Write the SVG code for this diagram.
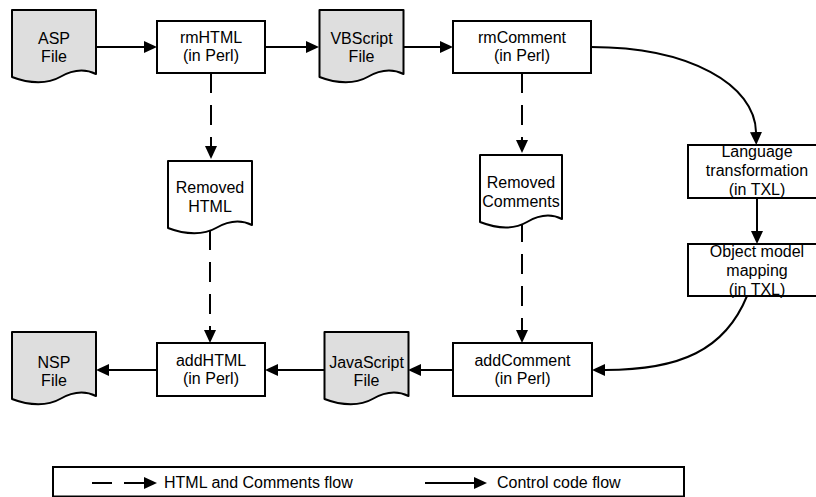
<svg xmlns="http://www.w3.org/2000/svg" xmlns:xlink="http://www.w3.org/1999/xlink" width="816" height="497" viewBox="0 0 816 497">
  <style>
    text { font-family: "Liberation Sans", Arial, sans-serif; font-size: 16px; fill: #000; text-anchor: middle; }
    .legend text { text-anchor: start; }
    .box { fill: #fff; stroke: #000; stroke-width: 2; }
    .file { fill: #dedede; stroke: #000; stroke-width: 2; stroke-linejoin: round; }
    .store { fill: #fff; stroke: #000; stroke-width: 2; stroke-linejoin: round; }
    .flow { fill: none; stroke: #000; stroke-width: 2; marker-end: url(#arrow); }
    .dash { stroke-dasharray: 20 12; }
  </style>
  <defs>
    <marker id="arrow" markerUnits="userSpaceOnUse" markerWidth="13" markerHeight="12" refX="0" refY="6" orient="auto">
      <path d="M0,0 L13,6 L0,12 Z" fill="#000"/>
    </marker>
    <!-- document shape with wavy bottom edge -->
    <path id="doc" d="M0,0 H84 V64 C72,58 60,60 48,67 C36,74 18,74 0,67 Z"/>
  </defs>

  <g id="connectors">
    <!-- control code flow -->
    <path class="flow" d="M96,47 H144"/>
    <path class="flow" d="M265,47 H306"/>
    <path class="flow" d="M404,47 H440"/>
    <path class="flow" d="M591,47 C690,47 755,85 756,132"/>
    <path class="flow" d="M757,198 V231"/>
    <path class="flow" d="M747,296 C725,350 680,370 605,370"/>
    <path class="flow" d="M453,370 H421"/>
    <path class="flow" d="M325,370 H278"/>
    <path class="flow" d="M157,370 H109"/>
    <!-- HTML and comments flow -->
    <path class="flow dash" d="M211,73 V146"/>
    <path class="flow dash" d="M210,230 V330"/>
    <path class="flow dash" d="M522,73 V140"/>
    <path class="flow dash" d="M522,222 V330"/>
  </g>

  <g id="asp-file">
    <use xlink:href="#doc" class="file" transform="translate(12,10)"/>
    <text x="54" y="44">ASP</text>
    <text x="54" y="62">File</text>
  </g>
  <g id="rmHTML">
    <rect class="box" x="157" y="21" width="108" height="52"/>
    <text x="211" y="43">rmHTML</text>
    <text x="211" y="61">(in Perl)</text>
  </g>
  <g id="vbscript-file">
    <use xlink:href="#doc" class="file" transform="translate(319.5,10)"/>
    <text x="361.5" y="44">VBScript</text>
    <text x="361.5" y="62">File</text>
  </g>
  <g id="rmComment">
    <rect class="box" x="453" y="21" width="138" height="52"/>
    <text x="522" y="43">rmComment</text>
    <text x="522" y="61">(in Perl)</text>
  </g>
  <g id="removed-html">
    <use xlink:href="#doc" class="store" transform="translate(168,161)"/>
    <text x="210" y="193">Removed</text>
    <text x="210" y="212">HTML</text>
  </g>
  <g id="removed-comments">
    <path class="store" d="M480,155 H562 V219 C550,213 539,215 527,222 C515,229 498,229 480,222 Z"/>
    <text x="521" y="188">Removed</text>
    <text x="521" y="207">Comments</text>
  </g>
  <g id="language-transformation">
    <rect class="box" x="688" y="145" width="138" height="53"/>
    <text x="757" y="157">Language</text>
    <text x="757" y="176">transformation</text>
    <text x="757" y="195">(in TXL)</text>
  </g>
  <g id="object-model-mapping">
    <rect class="box" x="688" y="244" width="138" height="52"/>
    <text x="757" y="257">Object model</text>
    <text x="757" y="276">mapping</text>
    <text x="757" y="295">(in TXL)</text>
  </g>
  <g id="nsp-file">
    <use xlink:href="#doc" class="file" transform="translate(12,332)"/>
    <text x="54" y="368">NSP</text>
    <text x="54" y="386">File</text>
  </g>
  <g id="addHTML">
    <rect class="box" x="157" y="343" width="108" height="53"/>
    <text x="211" y="366">addHTML</text>
    <text x="211" y="384">(in Perl)</text>
  </g>
  <g id="javascript-file">
    <use xlink:href="#doc" class="file" transform="translate(324.5,332)"/>
    <text x="366.5" y="368">JavaScript</text>
    <text x="366.5" y="386">File</text>
  </g>
  <g id="addComment">
    <rect class="box" x="453" y="343" width="139" height="53"/>
    <text x="522.5" y="366">addComment</text>
    <text x="522.5" y="384">(in Perl)</text>
  </g>

  <g id="legend" class="legend">
    <rect x="53" y="467" width="631" height="29.5" fill="#fff" stroke="#000" stroke-width="2"/>
    <path class="flow dash" d="M92,483 H144"/>
    <text x="164" y="488">HTML and Comments flow</text>
    <path class="flow" d="M425,483 H474"/>
    <text x="497" y="488">Control code flow</text>
  </g>
</svg>
